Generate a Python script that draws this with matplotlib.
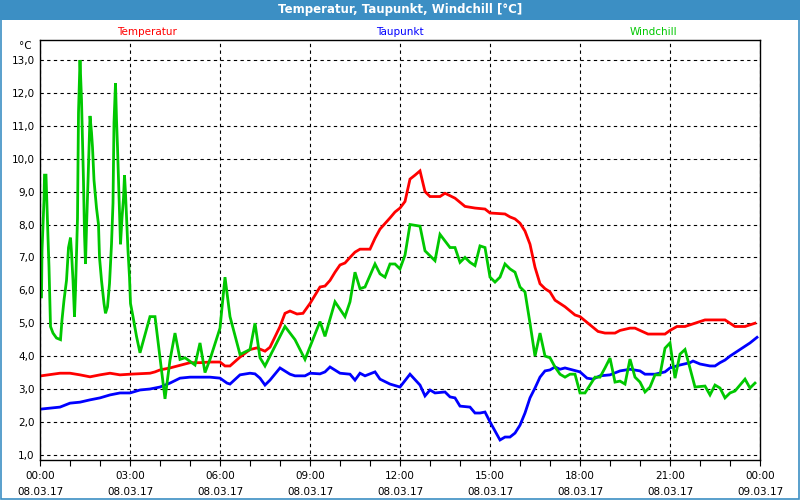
import matplotlib
matplotlib.use("Agg")
import matplotlib.pyplot as plt
from matplotlib.patches import Rectangle
from matplotlib.ticker import MultipleLocator, FixedLocator

# minutes since 08.03.17 00:00, value in °C
temperatur = [(2, 3.40), (40, 3.48), (60, 3.48), (80, 3.43), (100, 3.37), (120, 3.43), (140, 3.48),
              (160, 3.43), (180, 3.45), (220, 3.48), (230, 3.52), (240, 3.58), (260, 3.64), (280, 3.72),
              (300, 3.80), (320, 3.80), (340, 3.82), (360, 3.82), (370, 3.70), (380, 3.70), (400, 3.97),
              (420, 4.20), (434, 4.25), (450, 4.15), (460, 4.27), (480, 4.90), (490, 5.30), (500, 5.37),
              (514, 5.28), (526, 5.30), (540, 5.60), (560, 6.10), (570, 6.13), (580, 6.30), (590, 6.55),
              (600, 6.77), (610, 6.83), (620, 7.00), (630, 7.16), (640, 7.25), (660, 7.25), (670, 7.58),
              (680, 7.86), (700, 8.20), (710, 8.38), (720, 8.50), (730, 8.70), (740, 9.38), (750, 9.50),
              (760, 9.63), (770, 9.00), (780, 8.85), (800, 8.85), (810, 8.95), (830, 8.80), (850, 8.55),
              (870, 8.50), (890, 8.47), (900, 8.35), (930, 8.32), (940, 8.23), (950, 8.17), (960, 8.04),
              (970, 7.80), (980, 7.40), (990, 6.70), (1000, 6.20), (1010, 6.05), (1020, 5.95), (1030, 5.70),
              (1050, 5.50), (1070, 5.25), (1080, 5.20), (1100, 4.95), (1116, 4.75), (1130, 4.70), (1150, 4.70),
              (1160, 4.78), (1180, 4.85), (1190, 4.85), (1200, 4.78), (1216, 4.67), (1250, 4.67), (1260, 4.78),
              (1274, 4.90), (1290, 4.90), (1310, 5.00), (1330, 5.10), (1370, 5.10), (1390, 4.90), (1410, 4.90),
              (1420, 4.95), (1430, 5.00)]

taupunkt = [(2, 2.39), (40, 2.45), (60, 2.57), (80, 2.60), (100, 2.67), (120, 2.73), (140, 2.82), (160, 2.88),
            (180, 2.88), (200, 2.97), (220, 3.00), (240, 3.06), (260, 3.18), (280, 3.33), (300, 3.36),
            (340, 3.36), (360, 3.33), (374, 3.18), (380, 3.15), (400, 3.43), (420, 3.48), (430, 3.46),
            (440, 3.33), (450, 3.12), (460, 3.27), (480, 3.64), (500, 3.45), (510, 3.40), (530, 3.40),
            (540, 3.48), (560, 3.46), (570, 3.52), (580, 3.67), (600, 3.48), (620, 3.45), (630, 3.27),
            (640, 3.48), (650, 3.40), (670, 3.52), (680, 3.30), (700, 3.15), (720, 3.06), (740, 3.45),
            (760, 3.12), (770, 2.79), (780, 2.97), (790, 2.88), (810, 2.91), (820, 2.76), (830, 2.73),
            (840, 2.48), (860, 2.45), (870, 2.27), (880, 2.27), (890, 2.30), (900, 2.00), (920, 1.45),
            (930, 1.54), (940, 1.54), (950, 1.66), (960, 1.90), (970, 2.27), (980, 2.73), (990, 3.03),
            (1000, 3.36), (1010, 3.55), (1020, 3.58), (1030, 3.67), (1040, 3.60), (1050, 3.64), (1060, 3.60),
            (1080, 3.52), (1094, 3.33), (1106, 3.30), (1120, 3.40), (1140, 3.43), (1160, 3.55), (1180, 3.60),
            (1200, 3.55), (1210, 3.45), (1230, 3.45), (1250, 3.52), (1260, 3.64), (1280, 3.73), (1300, 3.80),
            (1306, 3.85), (1320, 3.76), (1340, 3.70), (1350, 3.70), (1360, 3.80), (1370, 3.88), (1380, 4.00),
            (1400, 4.20), (1420, 4.40), (1434, 4.57)]

windchill = [(3, 5.8), (4, 7.2), (6, 8.0), (8, 8.75), (9, 9.5), (12, 9.5), (14, 8.5), (16, 7.6), (18, 6.7),
             (21, 4.9), (26, 4.7), (33, 4.55), (41, 4.5), (44, 5.1), (48, 5.7), (53, 6.3), (57, 7.3), (61, 7.6),
             (63, 7.15), (66, 6.3), (69, 5.2), (71, 6.0), (75, 8.2), (77, 11.4), (80, 13.0), (83, 11.8),
             (85, 10.6), (87, 9.3), (89, 7.7), (91, 6.8), (93, 7.9), (96, 9.3), (98, 10.35), (100, 11.3),
             (103, 10.8), (105, 10.35), (108, 9.35), (113, 8.5), (117, 8.0), (119, 7.0), (123, 6.3), (128, 5.6),
             (131, 5.3), (135, 5.5), (139, 6.2), (143, 7.4), (146, 8.65), (148, 11.1), (151, 12.3), (153, 11.2),
             (155, 10.35), (157, 9.35), (159, 8.35), (161, 7.4), (164, 8.2), (167, 8.8), (169, 9.5), (171, 8.95),
             (174, 7.9), (176, 7.2), (179, 6.4), (181, 5.6), (186, 5.2), (193, 4.6), (200, 4.1), (220, 5.2),
             (230, 5.2), (250, 2.7), (260, 3.88), (270, 4.7), (280, 3.9), (290, 3.95), (310, 3.73), (320, 4.4),
             (330, 3.5), (340, 3.9), (360, 4.85), (370, 6.4), (380, 5.2), (400, 4.05), (420, 4.2), (430, 5.0),
             (440, 3.95), (450, 3.7), (490, 4.9), (510, 4.5), (530, 3.9), (560, 5.05), (570, 4.6), (590, 5.65),
             (610, 5.2), (620, 5.65), (630, 6.55), (640, 6.05), (650, 6.1), (670, 6.8), (680, 6.5), (690, 6.4),
             (700, 6.8), (710, 6.8), (720, 6.65), (730, 7.07), (740, 8.0), (760, 7.95), (770, 7.2), (790, 6.9),
             (800, 7.7), (810, 7.5), (820, 7.3), (830, 7.3), (840, 6.85), (850, 7.0), (860, 6.85), (870, 6.75),
             (880, 7.35), (890, 7.3), (900, 6.4), (910, 6.25), (920, 6.4), (930, 6.8), (940, 6.65), (950, 6.55),
             (960, 6.1), (970, 5.95), (980, 5.0), (990, 4.0), (1000, 4.7), (1010, 4.0), (1020, 3.95), (1030, 3.67),
             (1040, 3.45), (1050, 3.36), (1060, 3.45), (1070, 3.45), (1080, 2.88), (1090, 2.88), (1110, 3.36),
             (1120, 3.36), (1130, 3.64), (1140, 3.94), (1150, 3.21), (1160, 3.24), (1170, 3.15), (1180, 3.91),
             (1190, 3.36), (1200, 3.21), (1210, 2.91), (1220, 3.06), (1230, 3.43), (1240, 3.43), (1250, 4.24),
             (1260, 4.4), (1270, 3.33), (1280, 4.06), (1290, 4.2), (1310, 3.06), (1330, 3.09), (1340, 2.82),
             (1350, 3.12), (1360, 3.03), (1370, 2.73), (1380, 2.88), (1390, 2.94), (1410, 3.3), (1420, 3.03),
             (1430, 3.18)]

series_names = ["Temperatur", "Taupunkt", "Windchill"]
series_colors = ["#ff0000", "#0000ff", "#00c800"]
xtick_labels = ["00:00\n08.03.17", "03:00\n08.03.17", "06:00\n08.03.17", "09:00\n08.03.17",
                "12:00\n08.03.17", "15:00\n08.03.17", "18:00\n08.03.17", "21:00\n08.03.17",
                "00:00\n09.03.17"]
yticks = list(range(1, 14))

bar_blue = "#3c8fc4"

fig = plt.figure(figsize=(8, 5), dpi=100)
fig.patch.set_facecolor("white")
fig.patches.append(Rectangle((0, 1 - 20 / 500), 1, 20 / 500, transform=fig.transFigure,
                             facecolor=bar_blue, edgecolor="none", zorder=0))
fig.patches.append(Rectangle((0.6 / 800, 0.6 / 500), 1 - 1.2 / 800, 1 - 1.2 / 500, transform=fig.transFigure,
                             facecolor="none", edgecolor=bar_blue, lw=1.2, zorder=0))
fig.text(0.5, 1 - 10 / 500, "Temperatur, Taupunkt, Windchill [°C]", color="white",
         fontsize=8.5, fontweight="bold", ha="center", va="center")

ax = fig.add_axes([40 / 800, 40 / 500, 720 / 800, 420 / 500])

for name, col, pts in zip(series_names, series_colors, [temperatur, taupunkt, windchill]):
    t = [p[0] for p in pts]
    v = [p[1] for p in pts]
    ax.plot(t, v, color=col, lw=2, solid_joinstyle="miter")

ax.set_xlim(0, 1440)
ax.set_ylim(0.842, 13.608)
ax.set_xticks(range(0, 1441, 180))
ax.set_xticklabels(xtick_labels, fontsize=7.5, linespacing=1.75)
ax.xaxis.set_minor_locator(MultipleLocator(60))
ax.set_yticks(yticks)
ax.set_yticklabels(["{},0".format(y) for y in yticks], fontsize=7.5)
ax.tick_params(axis="x", which="both", direction="out", length=4, width=0.8, pad=4)
ax.tick_params(axis="y", length=0, pad=4)

ax.grid(True, which="major", color="black", linestyle=(0, (3, 3)), linewidth=0.8)
for s in ax.spines.values():
    s.set_linewidth(1)
    s.set_color("black")

ax.text(-0.011, 1 - 6 / 420, "°C", transform=ax.transAxes, ha="right", va="center", fontsize=7.5)

for i, (name, col) in enumerate(zip(series_names, series_colors)):
    fig.text((147 + 253 * i) / 800, 1 - 32 / 500, name, color=col, fontsize=7.5, ha="center", va="center")

fig.savefig("out.png", dpi=100)
